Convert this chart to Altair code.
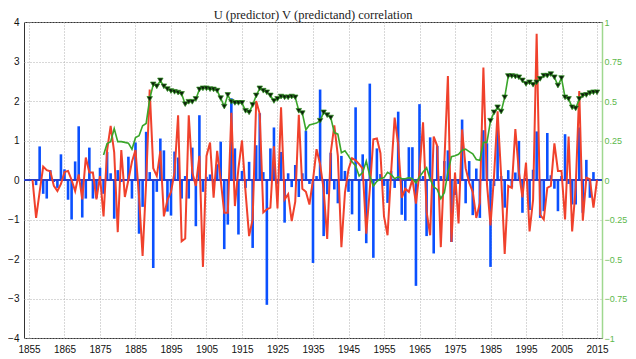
import altair as alt
import pandas as pd

# ---------------- data ----------------
first_year = 1856
# blue bars (observed anomaly, left axis)
blue = [
    0.0, -0.13, 0.85, -0.35, -0.47, 0.25, -0.05, -0.2, 0.65, 0.27,
    -0.5, -1.0, 0.47, 1.36, -0.95, -0.47, 0.82, -0.47, -0.45, 0.31,
    -0.35, 0.71, 0.17, -0.98, 0.25, -0.05, 0.0, 0.59, -0.47, 0.95,
    -1.36, -0.68, 1.22, 0.2, -2.23, -0.3, 1.05, 0.75, -0.8, -0.9,
    0.72, 0.57, -0.47, 0.1, -0.47, 0.82, -1.17, 1.64, -0.3, 0.08,
    0.14, -0.2, 0.4, 0.97, -1.75, -1.13, 2.07, 0.8, -1.38, 0.23,
    -0.2, 0.46, -1.72, 0.88, 1.69, 0.2, -3.16, 0.8, 1.33, -0.1,
    0.71, -1.08, 0.17, -0.18, 0.38, -0.43, 0.17, 1.25, -0.1, -2.1,
    0.1, 2.29, -1.42, -0.36, 0.69, -0.24, -0.59, 0.61, 0.23, -0.3,
    -0.87, 1.84, -1.29, 0.65, -1.6, 2.44, -1.97, 0.8, 0.15, -0.15,
    -0.58, 0.23, -0.2, 1.73, -0.88, -1.03, 0.83, 0.83, -2.68, 1.92,
    0.1, -1.42, 1.08, -1.86, 0.86, 0.1, 0.48, 0.75, -1.57, -0.38,
    -0.1, 1.53, -0.59, 0.48, -0.89, 0.29, -0.96, 1.26, 0.93, -2.2,
    -0.15, 1.27, 0.1, -0.7, 0.25, -0.19, 0.19, 0.99, -0.83, 0.05,
    -0.76, 0.26, 1.23, -0.96, -0.79, 1.19, 0.12, -0.22, -0.79, 0.1,
    1.16, -0.1, -0.62, -0.62, 1.33, -0.83, 0.51, -0.45, 0.2, 0.0,
]
# red line (prediction, left axis)
red = [
    0.0, -0.96, -0.3, 0.34, 0.25, 0.22, -0.15, -0.28, -0.1, 0.2,
    0.23, 0.0, -0.28, 0.14, -0.49, 0.57, 0.19, 0.19, -0.49, 0.1,
    -0.92, 0.75, 1.37, 0.7, -1.32, 0.76, -0.43, 0.0, 0.46, 0.76,
    -0.43, -1.92, -0.05, 2.29, 0.3, 0.1, 0.74, -0.92, -0.5, -0.3,
    0.2, 1.64, -1.55, -1.48, 1.64, 0.19, -0.15, 0.61, -2.2, 0.61,
    0.95, -0.45, 0.74, 0.0, -0.83, -0.83, 1.7, -0.66, 0.3, 1.0,
    -0.3, -1.42, -1.0, 2.0, 1.67, -0.82, -0.74, -0.7, 0.85, -0.72,
    1.84, -0.49, -0.36, -1.04, -0.55, 1.65, -0.22, -0.3, -0.62, 0.0,
    0.78, 0.4, -0.24, -1.49, 0.69, 1.38, 0.61, -1.7, -0.32, 0.27,
    0.55, 0.5, 0.4, 0.29, -1.36, -0.24, 1.03, 1.05, 0.68, -0.92,
    -1.4, 0.19, 1.58, 0.9, -0.45, -0.22, -0.3, 0.02, -0.6, 0.2,
    1.46, -0.8, -1.4, 1.1, 0.86, -1.7, 0.44, 2.63, -1.57, 0.19,
    -1.1, 1.28, 0.3, -0.07, -0.3, -0.96, -0.58, 2.85, -0.1, -1.15,
    0.1, 1.74, 0.1, -1.87, -0.15, -0.2, 1.29, 0.2, -0.44, 0.44,
    -1.3, -0.5, 3.7, -0.88, -1.0, -0.2, -0.15, 0.93, 0.23, 0.23,
    -1.0, 1.1, -1.3, -0.2, 2.25, -1.03, 0.06, 0.02, -0.7, 0.0,
]
# green line (running correlation, right axis)
corr_start = 1876
corr = [
    0.158, 0.23, 0.243, 0.325, 0.243, 0.243, 0.238, 0.233, 0.195, 0.268,
    0.28, 0.343, 0.358, 0.513, 0.605, 0.593, 0.63, 0.593, 0.575, 0.563,
    0.558, 0.553, 0.545, 0.48, 0.495, 0.495, 0.513, 0.573, 0.58, 0.58,
    0.575, 0.573, 0.565, 0.518, 0.465, 0.538, 0.495, 0.488, 0.488, 0.488,
    0.438, 0.428, 0.475, 0.535, 0.58, 0.565, 0.555, 0.535, 0.5, 0.513,
    0.528, 0.523, 0.523, 0.528, 0.523, 0.438, 0.423, 0.318, 0.348, 0.355,
    0.36, 0.375, 0.428, 0.41, 0.395, 0.3, 0.29, 0.173, 0.185, 0.153,
    0.115, 0.09, 0.025, 0.048, 0.12, 0.025, -0.038, -0.008, 0.008, 0.015,
    0.048, 0.035, 0.008, 0.02, 0.008, 0.008, 0.015, 0.008, -0.018, 0.02,
    0.05, 0.078, 0.005, -0.043, -0.06, -0.118, -0.08, 0.048, 0.148, 0.153,
    0.163, 0.188, 0.195, 0.18, 0.165, 0.13, 0.125, 0.238, 0.238, 0.375,
    0.428, 0.46, 0.433, 0.523, 0.658, 0.658, 0.655, 0.65, 0.63, 0.608,
    0.618, 0.603, 0.618, 0.64, 0.66, 0.66, 0.67, 0.65, 0.598, 0.645,
    0.523, 0.513, 0.46, 0.453, 0.513, 0.535, 0.538, 0.55, 0.555, 0.555,
]
signif_level = 0.37
year_ticks = list(range(1855, 2016, 10))
left_ticks = [-4, -3, -2, -1, 0, 1, 2, 3, 4]
right_ticks = [-1, -0.75, -0.5, -0.25, 0, 0.25, 0.5, 0.75, 1]

df = pd.DataFrame({"year": list(range(first_year, first_year + len(blue))),
                   "obs": blue, "pred": red})
gdf = pd.DataFrame({"year": list(range(corr_start, corr_start + len(corr))),
                    "corr": corr})

FONT = "Liberation Sans"
MINUS = "replace(toString(datum.value), '-', '\u2212')"

x_enc = alt.X("year:Q",
              scale=alt.Scale(domain=[1855, 2015], nice=False, zero=False),
              axis=alt.Axis(values=year_ticks, format="d", title=None,
                            grid=True, gridDash=[1, 2], gridColor="#b0b0b0",
                            domain=False, tickSize=0, labelPadding=6,
                            labelOverlap=False,
                            labelFont=FONT, labelFontSize=10,
                            labelColor="#111111"))

y_left = alt.Scale(domain=[-4, 4], nice=False)
left_axis = alt.Axis(values=left_ticks, title=None, grid=True, gridDash=[1, 2],
                     gridColor="#b0b0b0", domain=False, tickSize=0,
                     labelOverlap=False, labelPadding=5, labelFont=FONT,
                     labelFontSize=10, labelColor="#111111", labelExpr=MINUS)

bars = alt.Chart(df).mark_bar(size=2.6, color="#0a50ff").encode(
    x=x_enc,
    y=alt.Y("obs:Q", scale=y_left, axis=left_axis),
)
zero = alt.Chart(df).mark_rule(color="#2a40c8", strokeWidth=1).encode(
    y=alt.YDatum(0, scale=y_left, axis=left_axis)
)
redline = alt.Chart(df).mark_line(color="#f0412c", strokeWidth=2).encode(
    x=x_enc,
    y=alt.Y("pred:Q", scale=y_left, axis=left_axis),
)
left = alt.layer(bars, zero, redline)

y_right = alt.Y("corr:Q", scale=alt.Scale(domain=[-1, 1], nice=False),
                axis=alt.Axis(orient="right", values=right_ticks,
                              labelExpr=MINUS, labelOverlap=False,
                              title=None, grid=False, tickSize=0,
                              domainColor="#9fd88f", domainWidth=1.5,
                              labelColor="#5cb84a", labelPadding=2,
                              labelFont=FONT, labelFontSize=9))
greenline = alt.Chart(gdf).mark_line(color="#3aa62a", strokeWidth=1.6).encode(
    x=x_enc, y=y_right)
tri = alt.Chart(gdf).transform_filter(
    alt.datum.corr >= signif_level
).mark_point(shape="triangle-down", filled=True, size=30, fill="#0d1f0d",
             stroke="#2c8c1e", strokeWidth=0.7, opacity=1).encode(
    x=x_enc, y=y_right)
right = alt.layer(greenline, tri)

chart = alt.layer(left, right).resolve_scale(y="independent").properties(
    width=578, height=316,
    title=alt.Title("U (predictor) V (predictand) correlation",
                    font="Liberation Serif", fontSize=12.5, fontWeight="normal",
                    color="#222222", offset=-4),
    autosize=alt.AutoSizeParams(type="none"),
    padding={"left": 16, "top": 14, "right": 26, "bottom": 21},
).configure_view(stroke="#333333", strokeWidth=1)

chart.save("out.html", embed_options={"renderer": "svg", "actions": False})
